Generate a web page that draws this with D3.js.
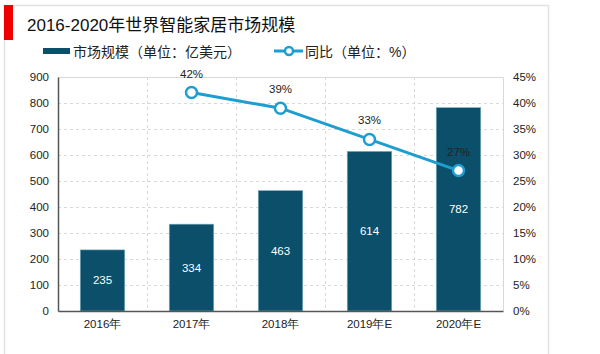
<!DOCTYPE html>
<html><head><meta charset="utf-8">
<script src="https://cdn.jsdelivr.net/npm/d3@7"></script>
<style>body{margin:0;background:#fff;}svg{display:block;font-family:Arial,"Liberation Sans","Noto Sans CJK SC",sans-serif;}</style>
</head><body><svg id="c" width="600" height="354"></svg>
<script>
const categories = ["2016年","2017年","2018年","2019年E","2020年E"];
const marketSize = [235, 334, 463, 614, 782];
const growth = [null, 42, 39, 33, 27];
const leftTicks = [0,100,200,300,400,500,600,700,800,900];
const rightTicks = [0,5,10,15,20,25,30,35,40,45];
const title = "2016-2020年世界智能家居市场规模";
const legendBar = "市场规模（单位：亿美元）";
const legendLine = "同比（单位：%）";

const svg = d3.select("#c");
const barColor = "#0b4f6b", lineColor = "#1e9dd0";
const L = 58, R = 503, T = 77, B = 311;

// outer frame
svg.append("path").attr("d","M4.5,354 V5.5 H548.5 V354").attr("fill","none").attr("stroke","#e2e2e2").attr("stroke-width",1.5);
svg.append("rect").attr("x",4).attr("y",5).attr("width",9).attr("height",35).attr("fill","#ee0000");
svg.append("text").attr("x",27).attr("y",31).attr("font-size",17).attr("fill","#111").text(title);

const x = d3.scaleBand().domain(categories).range([L,R]).paddingInner(0.5).paddingOuter(0.25);
const y = d3.scaleLinear().domain([0,900]).range([B,T]);
const y2 = d3.scaleLinear().domain([0,45]).range([B,T]);

// grid
const g = svg.append("g");
g.selectAll(".hg").data(leftTicks.slice(1,-1)).join("line")
 .attr("x1",L).attr("x2",R).attr("y1",d=>y(d)+0.5).attr("y2",d=>y(d)+0.5)
 .attr("stroke","#d9d9d9").attr("stroke-dasharray","3,3");
g.selectAll(".vg").data(categories.slice(1)).join("line")
 .attr("x1",d=>Math.round(x(d)-x.step()*0.25)+0.5).attr("x2",d=>Math.round(x(d)-x.step()*0.25)+0.5)
 .attr("y1",T).attr("y2",B).attr("stroke","#d9d9d9").attr("stroke-dasharray","3,3");
// plot border
svg.append("path").attr("d",`M${L},${T+0.5} H${R+0.5} V${B}`).attr("fill","none").attr("stroke","#d9d9d9");

// bars
svg.selectAll(".bar").data(marketSize).join("rect")
 .attr("x",(d,i)=>x(categories[i])).attr("width",x.bandwidth())
 .attr("y",d=>y(d)).attr("height",d=>B-y(d))
 .attr("fill",barColor).attr("stroke","#7fb0c4").attr("stroke-width",0.6);
svg.selectAll(".bl").data(marketSize).join("text")
 .attr("x",(d,i)=>x(categories[i])+x.bandwidth()/2).attr("y",d=>(y(d)+B)/2+4)
 .attr("text-anchor","middle").attr("font-size",11.5).attr("fill","#fff").text(d=>d);

// axes
const ax = d3.axisLeft(y).tickValues(leftTicks).tickSize(0).tickPadding(9);
const axG = svg.append("g").attr("transform",`translate(${L},0)`).call(ax);
axG.select(".domain").attr("stroke","#555").attr("stroke-width",1.5);
axG.selectAll("text").attr("font-size",11.5).attr("fill","#222").attr("font-family","Arial,'Liberation Sans',sans-serif");
const ar = d3.axisRight(y2).tickValues(rightTicks).tickSize(0).tickPadding(10).tickFormat(d=>d+"%");
const arG = svg.append("g").attr("transform",`translate(${R},0)`).call(ar);
arG.select(".domain").remove();
arG.selectAll("text").attr("font-size",11.5).attr("fill","#222").attr("font-family","Arial,'Liberation Sans',sans-serif");
const bx = d3.axisBottom(x).tickSize(0).tickPadding(9);
const bxG = svg.append("g").attr("transform",`translate(0,${B})`).call(bx);
bxG.select(".domain").attr("stroke","#555").attr("stroke-width",1.5);
bxG.selectAll("text").attr("font-size",11.5).attr("fill","#222");

// line
const pts = growth.map((v,i)=>({v,c:categories[i]})).filter(d=>d.v!==null);
const line = d3.line().x(d=>x(d.c)+x.bandwidth()/2).y(d=>y2(d.v));
svg.append("path").datum(pts).attr("d",line).attr("fill","none").attr("stroke",lineColor).attr("stroke-width",3);
svg.selectAll(".pt").data(pts).join("circle")
 .attr("cx",d=>x(d.c)+x.bandwidth()/2).attr("cy",d=>y2(d.v)).attr("r",5.5)
 .attr("fill","#fff").attr("stroke",lineColor).attr("stroke-width",2.5);
svg.selectAll(".pl").data(pts).join("text")
 .attr("x",d=>x(d.c)+x.bandwidth()/2).attr("y",d=>y2(d.v)-15)
 .attr("text-anchor","middle").attr("font-size",11.5).attr("fill","#222").text(d=>d.v+"%");

// legend
svg.append("rect").attr("x",43).attr("y",48).attr("width",27).attr("height",6).attr("fill",barColor);
svg.append("text").attr("x",73).attr("y",56.5).attr("font-size",14).attr("fill","#222").text(legendBar);
svg.append("line").attr("x1",274).attr("x2",303).attr("y1",51).attr("y2",51).attr("stroke",lineColor).attr("stroke-width",3);
svg.append("circle").attr("cx",289).attr("cy",51).attr("r",4).attr("fill","#fff").attr("stroke",lineColor).attr("stroke-width",2.5);
svg.append("text").attr("x",305).attr("y",56.5).attr("font-size",14).attr("fill","#222").text(legendLine);
</script></body></html>
